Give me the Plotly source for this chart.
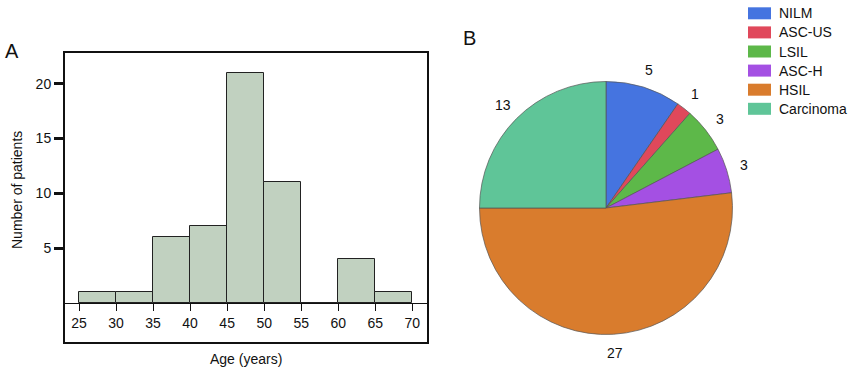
import math
import plotly.graph_objects as go

# ---- data ----
bin_starts = [25, 30, 35, 40, 45, 50, 55, 60, 65]
bin_width = 5
counts = [1, 1, 6, 7, 21, 11, 0, 4, 1]
x_ticks = [25, 30, 35, 40, 45, 50, 55, 60, 65, 70]
y_ticks = [5, 10, 15, 20]

categories = ["NILM", "ASC-US", "LSIL", "ASC-H", "HSIL", "Carcinoma"]
cat_values = [5, 1, 3, 3, 27, 13]
cat_colors = ["#4574e0", "#e0485b", "#5db849", "#a450e3", "#d97c2d", "#5fc598"]

W, H = 850, 374
FONT = "Liberation Sans, Arial, Helvetica, sans-serif"
FS = 14
INK = "#111111"

def px_x(p):
    return p / W

def px_y(p):
    return 1 - p / H

# pie geometry (pixels)
PIE_L, PIE_R, PIE_T, PIE_B = 479.5, 732.5, 81.5, 334.5
PCX, PCY = (PIE_L + PIE_R) / 2, (PIE_T + PIE_B) / 2
LABEL_R = 145

fig = go.Figure()

fig.add_trace(go.Bar(
    x=[s + bin_width / 2 for s in bin_starts],
    y=counts,
    width=bin_width,
    marker=dict(color="#c1d1c0", line=dict(color="#222222", width=1)),
    showlegend=False,
    xaxis="x", yaxis="y",
))

fig.add_trace(go.Pie(
    labels=categories,
    values=cat_values,
    marker=dict(colors=cat_colors, line=dict(color="#555555", width=0.7)),
    sort=False,
    direction="clockwise",
    rotation=0,
    textinfo="none",
    domain=dict(x=[px_x(PIE_L), px_x(PIE_R)], y=[px_y(PIE_B), px_y(PIE_T)]),
    showlegend=False,
    hoverinfo="label+value",
))

shapes = [
    dict(type="rect", xref="x domain", yref="y domain", x0=0, x1=1, y0=0, y1=1,
         line=dict(color=INK, width=2), fillcolor="rgba(0,0,0,0)", layer="above"),
]

def txt(text, x, y, size=FS, xanchor="center", angle=0):
    return dict(text=text, x=px_x(x), y=px_y(y), xref="paper", yref="paper",
                xanchor=xanchor, yanchor="middle", showarrow=False, textangle=angle,
                font=dict(size=size, color=INK, family=FONT))

annotations = [
    txt("Age (years)", 246, 359),
    txt("Number of patients", 17, 190, angle=-90),
    txt("A", 12, 51, size=20),
    txt("B", 469, 38, size=20),
]

# pie value labels placed outside, at each slice's mid-angle
total = sum(cat_values)
cum = 0
for v in cat_values:
    mid = (cum + v / 2) / total * 2 * math.pi
    cum += v
    lx = PCX + LABEL_R * math.sin(mid)
    ly = PCY - LABEL_R * math.cos(mid)
    annotations.append(txt(str(v), lx, ly))

# custom legend
for i, (cat, col) in enumerate(zip(categories, cat_colors)):
    yc = 13.3 + 19.1 * i
    shapes.append(dict(type="rect", xref="paper", yref="paper",
                       x0=px_x(748), x1=px_x(771), y0=px_y(yc + 6), y1=px_y(yc - 6),
                       fillcolor=col, line=dict(width=0)))
    annotations.append(txt(cat, 777, yc, xanchor="left"))

fig.update_layout(
    width=W, height=H,
    margin=dict(l=0, r=0, t=0, b=0),
    paper_bgcolor="white", plot_bgcolor="white",
    font=dict(family=FONT, size=FS, color=INK),
    xaxis=dict(
        domain=[px_x(64), px_x(428)],
        range=[22.97, 72.12],
        tickvals=x_ticks,
        ticks="outside", ticklen=7, tickwidth=1, tickcolor=INK,
        showline=True, linecolor=INK, linewidth=1,
        anchor="free", position=px_y(303),
        showgrid=False, zeroline=False,
        tickfont=dict(size=FS, color=INK),
    ),
    yaxis=dict(
        domain=[px_y(343), px_y(52)],
        range=[-3.65, 22.9],
        tickvals=y_ticks,
        ticks="outside", ticklen=9, tickwidth=3, tickcolor=INK,
        showline=False, showgrid=False, zeroline=False,
        anchor="x",
        tickfont=dict(size=FS, color=INK),
    ),
    shapes=shapes,
    annotations=annotations,
    bargap=0,
)

fig.write_html("out.html", config={"displayModeBar": False},
               post_script="document.body.style.margin='0px';document.body.style.overflow='hidden';")
